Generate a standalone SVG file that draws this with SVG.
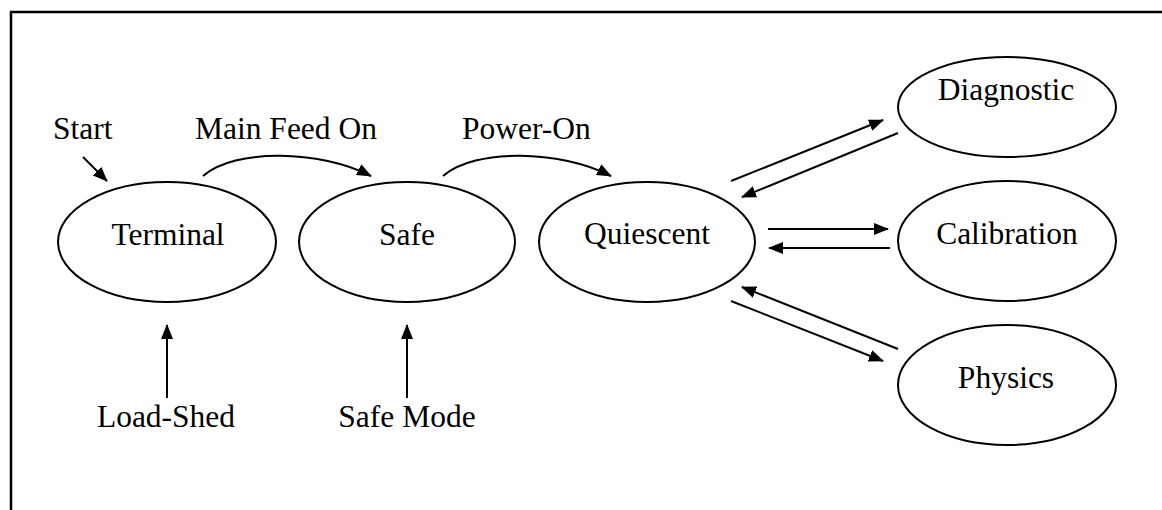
<svg xmlns="http://www.w3.org/2000/svg" width="1162" height="510" viewBox="0 0 1162 510">
<defs>
<marker id="ah" markerUnits="userSpaceOnUse" markerWidth="15" markerHeight="12" refX="14" refY="6" orient="auto">
<path d="M0,0 L15,6 L0,12 Z" fill="#000"/>
</marker>
<style>
.n ellipse{fill:#fff;stroke:#000;stroke-width:2}
text{font-family:"Liberation Serif","Times New Roman",serif;font-size:31.5px;fill:#000}
.c{text-anchor:middle}
#connectors path,#connectors line{fill:none;stroke:#000;stroke-width:2;marker-end:url(#ah)}
</style>
</defs>
<rect width="1162" height="510" fill="#fff"/>
<path d="M11,510 V12 H1162" fill="none" stroke="#000" stroke-width="2.5"/>
<g id="terminal" class="n"><ellipse cx="167" cy="242" rx="109" ry="60"/><text class="c" x="168" y="245">Terminal</text></g>
<g id="safe" class="n"><ellipse cx="407" cy="242" rx="108" ry="60"/><text class="c" x="407" y="245">Safe</text></g>
<g id="quiescent" class="n"><ellipse cx="647" cy="242" rx="108" ry="60"/><text class="c" x="647" y="244">Quiescent</text></g>
<g id="diagnostic" class="n"><ellipse cx="1007" cy="107" rx="109" ry="50"/><text class="c" x="1006" y="100">Diagnostic</text></g>
<g id="calibration" class="n"><ellipse cx="1007" cy="241" rx="109" ry="60"/><text class="c" x="1007" y="244">Calibration</text></g>
<g id="physics" class="n"><ellipse cx="1007" cy="385" rx="109" ry="60"/><text class="c" x="1006" y="388">Physics</text></g>
<g id="connectors">
<line x1="83" y1="157" x2="107" y2="181"/>
<path d="M203,176 C235,148 320,150 371,176"/>
<path d="M443,176 C475,148 560,150 611,176"/>
<line x1="167" y1="398" x2="167" y2="325"/>
<line x1="407" y1="398" x2="407" y2="325"/>
<line x1="731" y1="181" x2="883" y2="120"/>
<line x1="898" y1="133" x2="742" y2="197"/>
<line x1="768" y1="229" x2="888" y2="229"/>
<line x1="890" y1="248" x2="769" y2="248"/>
<line x1="898" y1="349" x2="742" y2="287"/>
<line x1="731" y1="301" x2="883" y2="361"/>
</g>
<g id="labels">
<text x="53" y="139">Start</text>
<text x="195" y="139">Main Feed On</text>
<text x="462" y="139">Power-On</text>
<text class="c" x="166" y="427">Load-Shed</text>
<text class="c" x="407" y="427">Safe Mode</text>
</g>
</svg>
